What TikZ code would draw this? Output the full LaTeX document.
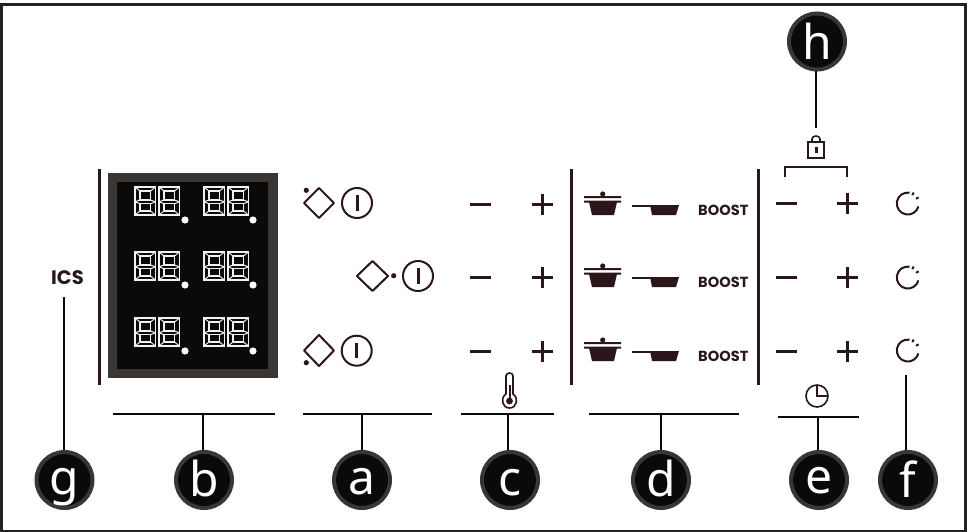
\documentclass[tikz,border=0pt]{standalone}
\usepackage{fontspec}
\setmainfont{Noto Sans}
\newfontfamily\boostfont{Poppins}[BoldFont={Poppins Bold}]
\definecolor{ink}{HTML}{2B171A}
\definecolor{rim}{HTML}{3A3634}
\definecolor{blk}{HTML}{0A0A0A}
\definecolor{frame}{HTML}{242122}
\tikzset{
 marker/.style={circle,draw=rim,line width=4pt,fill=blk,minimum size=56pt,inner sep=0pt,text=white,font=\fontsize{48}{48}\selectfont},
 lead/.style={line width=2.4pt,draw=blk},
 bar/.style={line width=3pt,draw=ink},
 sym/.style={line width=2pt,draw=ink,line join=round},
 pm/.style={line width=3pt,draw=ink},
 lab/.style={text=ink,inner sep=0pt,font=\boostfont\bfseries\fontsize{14.6}{14.6}\selectfont},
}
\newcommand{\letter}[2]{\raisebox{-#2pt}[0pt][0pt]{#1}}
\newcommand{\digit}[2]{\begin{scope}[shift={(#1,#2)}]
 \draw[draw=white!95!black,line width=1.5pt,line join=miter] (0,0) rectangle (20.5,28);
 \draw[draw=white!95!black,line width=1.3pt] (5,4) rectangle (15.5,13) (5,16.7) rectangle (15.5,24);
 \draw[draw=white!95!black,line width=1pt] (0,0)--(5,4) (20.5,0)--(15.5,4) (0,28)--(5,24) (20.5,28)--(15.5,24) (0,14.8)--(5,13) (20.5,14.8)--(15.5,13) (0,14.8)--(5,16.7) (20.5,14.8)--(15.5,16.7);
\end{scope}}
\newcommand{\displayrow}[1]{%
 \digit{135}{#1}\digit{159}{#1}\digit{204}{#1}\digit{228}{#1}
 \fill[white] (185,#1+33) circle (3.6) (253,#1+33) circle (3.6);}
\newcommand{\minusplus}[3]{%
 \draw[pm] (#1-10.5,#3)--(#1+10.5,#3);
 \draw[pm] (#2-10.5,#3)--(#2+10.5,#3) (#2,#3-10.5)--(#2,#3+10.5);}
\newcommand{\potrow}[1]{\begin{scope}[shift={(0,#1)}]
 \fill[ink] (602.7,2) circle (2.6);
 \fill[ink] (584,4) rectangle (621,6) (584,8.7) rectangle (621,10.5);
 \fill[ink] (589,10) -- (617,10) -- (614,23) -- (592,23) -- cycle;
 \fill[ink] (632,13) rectangle (652,15);
 \fill[ink] (650,13) -- (679,13) -- (676,23) -- (652,23) -- cycle;
 \node[lab,anchor=west] at (698,18) {BOOST};
\end{scope}}
\newcommand{\timer}[2]{\begin{scope}[shift={(#1,#2)}]
 \draw[line width=2pt,draw=ink] (1.9,-10.8) arc (-80:-345:11);
 \draw[line width=2pt,draw=ink] (4.5,-8.4)--(5.9,-11) (8.2,-4.7)--(10.8,-6.2);
\end{scope}}
\begin{document}
\begin{tikzpicture}[x=1pt,y=-1pt]
\useasboundingbox (0,0) rectangle (969,532);
\fill[white] (0,0) rectangle (969,532);
\draw[line width=3pt,draw=frame] (1.3,4.5) rectangle (965,531);
% display
\fill[rim] (108,173) rectangle (278,378);
\fill[blk] (117,182) rectangle (268,369);
\displayrow{187}\displayrow{252}\displayrow{318}
% bars
\draw[bar] (99,169)--(99,385);
\draw[bar] (571,169)--(571,385);
\draw[bar] (758,169)--(758,385);
% zone icons
\begin{scope}[sym]
 \draw (319,188)--(334,203)--(319,218)--(304,203)--cycle;
 \draw (357,203) circle (15);
 \draw[line width=3pt] (357,195)--(357,211);
 \draw (372.5,261)--(388,276)--(372.5,291)--(357,276)--cycle;
 \draw (418,276) circle (15);
 \draw[line width=3pt] (418,268)--(418,284);
 \draw (319,335)--(334,350.5)--(319,366)--(304,350.5)--cycle;
 \draw (356.7,350.7) circle (15);
 \draw[line width=3pt] (356.7,343)--(356.7,358);
\end{scope}
\fill[ink] (306.3,190.3) circle (2.6) (393.7,275.7) circle (2.6) (306.3,362.7) circle (2.6);
% plus minus
\minusplus{480}{542}{204}
\minusplus{480}{542}{277}
\minusplus{480}{542}{351}
\minusplus{786}{847}{203}
\minusplus{786}{847}{277}
\minusplus{786}{847}{351}
% pots
\potrow{192}\potrow{264}\potrow{338}
% timers
\timer{907.8}{203.5}\timer{907.8}{277.5}\timer{907.8}{350.5}
% ICS
\node[lab,font=\boostfont\bfseries\fontsize{19.5}{19.5}\selectfont] (ics) at (67.5,278) {ICS};
% lock
\draw[line width=1.6pt,draw=ink] (808,142) rectangle (824,158);
\draw[line width=1.6pt,draw=ink] (812,142) -- (812,139) .. controls (812,135) and (820,135) .. (820,139) -- (820,142);
\fill[ink] (814.5,147) rectangle (817.5,153);
\draw[line width=1.6pt,draw=ink] (785,177)--(785,167)--(847,167)--(847,177);
% thermometer
\draw[line width=1.6pt,draw=ink] (506,394)--(506,376) .. controls (506,372) and (513,372) .. (513,376) -- (513,394) .. controls (519,398) and (517,408) .. (509.5,408) .. controls (502,408) and (500,398) .. (506,394);
\fill[ink] (509.5,401) circle (3.4);
\fill[ink] (508.5,385) rectangle (510.5,400);
% clock
\draw[line width=1.6pt,draw=ink] (817,396) circle (11);
\draw[line width=1.6pt,draw=ink] (817,385)--(817,396)--(828,396);
% connector ends
\coordinate (gtop) at (64,297);
\coordinate (ftop) at (906,375);
\coordinate (htop) at (816,128);
\coordinate (bl) at (113,414); \coordinate (br) at (275,414); \coordinate (bm) at (203,414);
\coordinate (al) at (303,414); \coordinate (ar) at (432,414); \coordinate (am) at (362,414);
\coordinate (cl) at (461,414); \coordinate (cr) at (554,414); \coordinate (cm) at (508,414);
\coordinate (dl) at (589,414); \coordinate (dr) at (739,414); \coordinate (dm) at (661,414);
\coordinate (el) at (778,417); \coordinate (er) at (859,417); \coordinate (em) at (818,417);
\draw[lead] (bl)--(br) (al)--(ar) (cl)--(cr) (dl)--(dr) (el)--(er);
\node[marker] (mg) at (64.5,480) {\letter{g}{14}};
\node[marker] (mb) at (204,480) {\letter{b}{16}};
\node[marker] (ma) at (362,480) {\letter{a}{14}};
\node[marker] (mc) at (510,480) {\letter{c}{15}};
\node[marker] (md) at (661,480) {\letter{d}{16}};
\node[marker] (me) at (819,480) {\letter{e}{13}};
\node[marker] (mf) at (908,480) {\letter{f}{17}};
\node[marker] (mh) at (817,41.5) {\letter{h}{18}};
\draw[lead] (gtop |- mg.north)--(gtop);
\draw[lead] (bm |- mb.north)--(bm);
\draw[lead] (am |- ma.north)--(am);
\draw[lead] (cm |- mc.north)--(cm);
\draw[lead] (dm |- md.north)--(dm);
\draw[lead] (em |- me.north)--(em);
\draw[lead] (ftop |- mf.north)--(ftop);
\draw[lead] (htop |- mh.south)--(htop);
\end{tikzpicture}
\end{document}
